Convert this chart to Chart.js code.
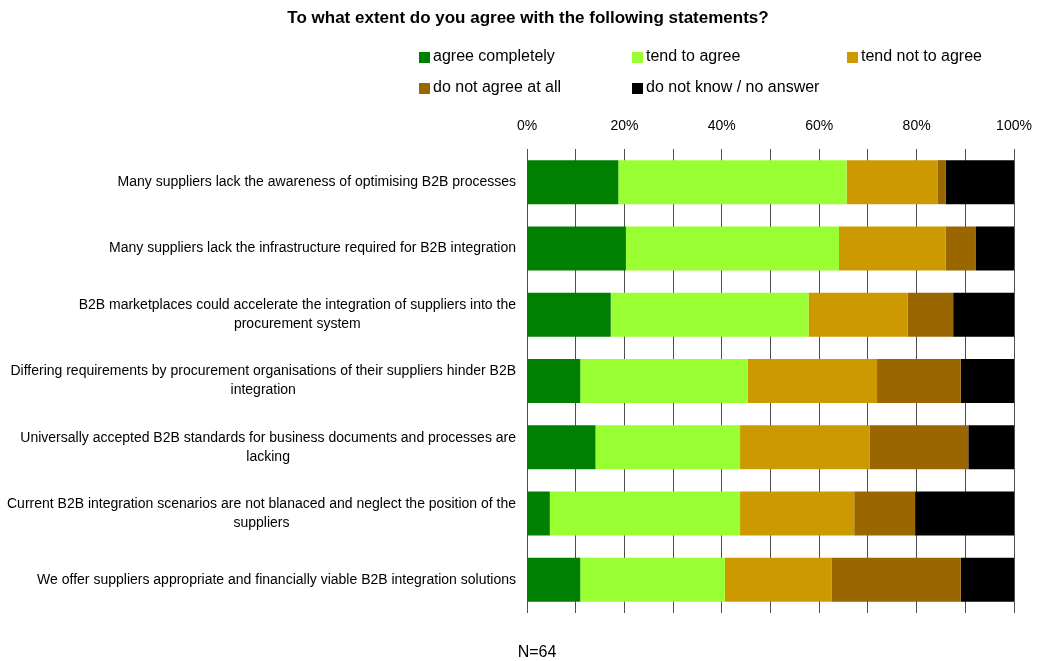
<!DOCTYPE html>
<html lang="en">
<head>
<meta charset="UTF-8">
<title>B2B statements</title>
<script src="https://cdn.jsdelivr.net/npm/chart.js@4"></script>
<style>
    html, body { margin: 0; padding: 0; background: #fff; }
    #wrap { width: 1038px; height: 661px; position: relative; }
</style>
</head>
<body>
<div id="wrap"><canvas id="chart"></canvas></div>
<script>
// statements (each entry = lines of the label)
const statements = [
    ['Many suppliers lack the awareness of optimising B2B processes'],
    ['Many suppliers lack the infrastructure required for B2B integration'],
    ['B2B marketplaces could accelerate the integration of suppliers into the', 'procurement system'],
    ['Differing requirements by procurement organisations of their suppliers hinder B2B', 'integration'],
    ['Universally accepted B2B standards for business documents and processes are', 'lacking'],
    ['Current B2B integration scenarios are not blanaced and neglect the position of the', 'suppliers'],
    ['We offer suppliers appropriate and financially viable B2B integration solutions']
];

// shares in percent (N=64)
const agreeCompletely = [18.75, 20.31, 17.19, 10.94, 14.06, 4.69, 10.94];
const tendToAgree     = [46.88, 43.75, 40.63, 34.38, 29.69, 39.06, 29.69];
const tendNotToAgree  = [18.75, 21.88, 20.31, 26.56, 26.56, 23.44, 21.88];
const notAgreeAtAll   = [1.56, 6.25, 9.38, 17.19, 20.31, 12.50, 26.56];
const dontKnow        = [14.06, 7.81, 12.50, 10.94, 9.38, 20.31, 10.94];

const seriesNames = ['agree completely', 'tend to agree', 'tend not to agree', 'do not agree at all', 'do not know / no answer'];
const seriesColors = ['#008000', '#99FF33', '#CC9900', '#996600', '#000000'];

const FONT = '"Liberation Sans", Arial, sans-serif';

const decor = {
    id: 'decor',
    afterDraw(chart) {
        const c = chart.ctx;
        c.save();
        // title
        c.fillStyle = '#000';
        c.textBaseline = 'middle';
        c.textAlign = 'center';
        c.font = 'bold 17px ' + FONT;
        c.fillText('To what extent do you agree with the following statements?', 528, 18);

        // legend, 3 columns x 2 rows
        const cols = [419, 632, 847];
        const rows = [57, 88];
        c.font = '16px ' + FONT;
        c.textAlign = 'left';
        chart.data.datasets.forEach((ds, i) => {
            const x = cols[i % 3], y = rows[Math.floor(i / 3)];
            c.fillStyle = ds.backgroundColor;
            c.fillRect(x, y - 5, 11, 11);
            c.fillStyle = '#000';
            c.fillText(ds.label, x + 14, y);
        });

        // category labels: block right-aligned, lines centered in block
        const yScale = chart.scales.y;
        c.font = '14px ' + FONT;
        c.textAlign = 'center';
        const right = 516, lh = 19;
        statements.forEach((lines, i) => {
            const yc = yScale.getPixelForValue(i);
            const w = Math.max(...lines.map(l => c.measureText(l).width));
            const cx = right - w / 2;
            lines.forEach((l, j) => {
                c.fillText(l, cx, yc + (j - (lines.length - 1) / 2) * lh);
            });
        });

        // sample size
        c.font = '16px ' + FONT;
        c.fillText('N=64', 537, 653);
        c.restore();
    }
};

const values = [agreeCompletely, tendToAgree, tendNotToAgree, notAgreeAtAll, dontKnow];

new Chart(document.getElementById('chart'), {
    type: 'bar',
    data: {
        labels: statements.map(s => s.join(' ')),
        datasets: values.map((v, i) => ({
            label: seriesNames[i],
            data: v,
            backgroundColor: seriesColors[i],
            borderWidth: 0,
            categoryPercentage: 1,
            barPercentage: 0.664
        }))
    },
    options: {
        indexAxis: 'y',
        responsive: true,
        maintainAspectRatio: false,
        animation: false,
        layout: { padding: { left: 0, right: 24, top: 109, bottom: 48 } },
        plugins: {
            legend: { display: false },
            title: { display: false },
            tooltip: { enabled: false }
        },
        scales: {
            x: {
                position: 'top',
                stacked: true,
                min: 0,
                max: 100,
                afterFit(scale) {
                    scale.height = 40;
                    scale.paddingLeft = 0;
                    scale.paddingRight = 0;
                },
                grid: { color: '#4d4d4d', lineWidth: 1, drawTicks: false },
                border: { display: false },
                ticks: {
                    stepSize: 10,
                    padding: 14,
                    color: '#000',
                    font: { family: FONT, size: 14 },
                    maxRotation: 0,
                    autoSkip: false,
                    callback: v => (v % 20 === 0 ? v + '%' : '')
                }
            },
            y: {
                stacked: true,
                afterFit(scale) { scale.width = 527; },
                grid: { display: false },
                border: { display: false },
                ticks: { display: false }
            }
        }
    },
    plugins: [decor]
});
</script>
</body>
</html>
